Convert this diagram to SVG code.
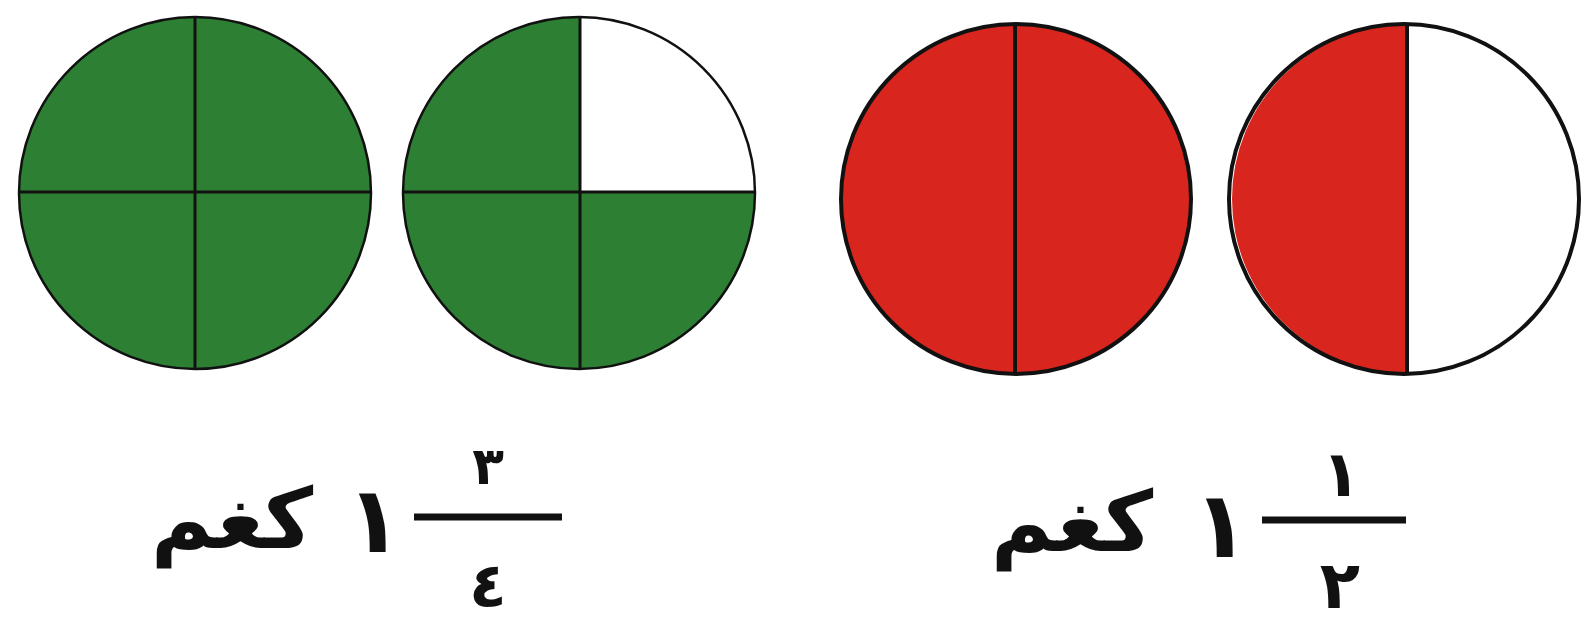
<svg xmlns="http://www.w3.org/2000/svg" width="1584" height="624" viewBox="0 0 1584 624">
<style>
.g{fill:#2d7f34}
.r{fill:#d8261e}
.w{fill:#ffffff}
.ol{fill:none;stroke:#111;stroke-width:2.5}
.olr{fill:none;stroke:#111;stroke-width:4}
.dv{stroke:#111;stroke-width:3;fill:none}
.bar{stroke:#111;stroke-width:7;stroke-linecap:butt}
.t{font-family:"DejaVu Sans",sans-serif;fill:#111;font-weight:bold}
</style>
<rect width="1584" height="624" fill="#ffffff"/>
<g id="circle-green-full">
<circle cx="195" cy="193" r="176" class="g"/>
<circle cx="195" cy="193" r="176" class="ol"/>
<line x1="195" y1="17" x2="195" y2="369" class="dv"/>
<line x1="19" y1="192" x2="371" y2="192" class="dv"/>
</g>
<g id="circle-green-three-quarters">
<circle cx="579" cy="193" r="176" class="g"/>
<path d="M580 192 L580 17 A176 176 0 0 1 755 192 Z" class="w"/>
<circle cx="579" cy="193" r="176" class="ol"/>
<line x1="580" y1="17" x2="580" y2="369" class="dv"/>
<line x1="403" y1="192" x2="755" y2="192" class="dv"/>
</g>
<g id="circle-red-full">
<circle cx="1016" cy="199" r="175" class="r"/>
<circle cx="1016" cy="199" r="175" class="olr"/>
<line x1="1015" y1="24" x2="1015" y2="374" class="dv" style="stroke-width:4"/>
</g>
<g id="circle-red-half">
<circle cx="1404" cy="199" r="175" class="w"/>
<path d="M1407 24 A175 175 0 0 0 1407 374 Z" class="r"/>
<circle cx="1404" cy="199" r="175" class="olr"/>
<line x1="1407" y1="24" x2="1407" y2="374" class="dv" style="stroke-width:4"/>
</g>
<g id="label-three-quarters">
<line x1="414" y1="517" x2="562" y2="517" class="bar"/>
<text x="488" y="484" class="t" font-size="52" text-anchor="middle">٣</text>
<text x="488" y="607" class="t" font-size="62" text-anchor="middle">٤</text>
<text x="374" y="552" class="t" font-size="92" text-anchor="middle">١</text>
<text x="232" y="548" class="t" font-size="84" text-anchor="middle" direction="rtl">كغم</text>
</g>
<g id="label-half">
<line x1="1262" y1="520" x2="1406" y2="520" class="bar"/>
<text x="1341" y="496" class="t" font-size="64" text-anchor="middle">١</text>
<text x="1340" y="608" class="t" font-size="66" text-anchor="middle">٢</text>
<text x="1221" y="557" class="t" font-size="92" text-anchor="middle">١</text>
<text x="1072" y="551" class="t" font-size="84" text-anchor="middle" direction="rtl">كغم</text>
</g>
</svg>
